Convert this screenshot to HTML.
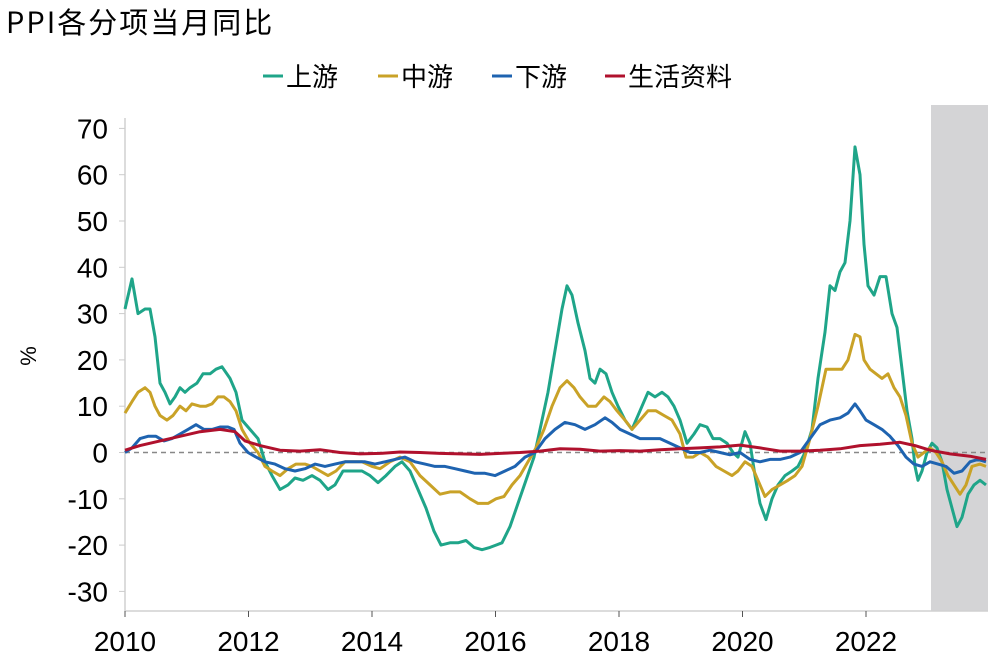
<!DOCTYPE html>
<html><head><meta charset="utf-8"><style>
html,body{margin:0;padding:0;background:#fff;}
svg{display:block;font-family:"Liberation Sans","Noto Sans CJK SC",sans-serif;}
</style></head><body>
<svg id="s" width="994" height="659" viewBox="0 0 994 659">
<text x="6" y="33" font-size="29" fill="#000" letter-spacing="2" font-family="'Noto Sans CJK SC',sans-serif">PPI各分项当月同比</text>
<g font-size="26" font-family="'Noto Sans CJK SC',sans-serif" fill="#000">
<line x1="263" y1="76" x2="283" y2="76" stroke="#1fa589" stroke-width="3"/><text x="286" y="86">上游</text>
<line x1="378" y1="76" x2="398" y2="76" stroke="#c9a227" stroke-width="3"/><text x="401" y="86">中游</text>
<line x1="492" y1="76" x2="512" y2="76" stroke="#1e63b0" stroke-width="3"/><text x="515" y="86">下游</text>
<line x1="605" y1="76" x2="625" y2="76" stroke="#b0112d" stroke-width="3"/><text x="628" y="86">生活资料</text>
</g>
<rect x="931" y="105" width="57" height="506" fill="#d4d4d6"/>
<line x1="125" y1="118" x2="125" y2="611" stroke="#d0d0d0" stroke-width="1.5"/>
<line x1="125" y1="611" x2="988" y2="611" stroke="#d0d0d0" stroke-width="1.5"/>
<line x1="125" y1="452.5" x2="988" y2="452.5" stroke="#888" stroke-width="1.5" stroke-dasharray="5,4"/>
<text x="0" y="0" font-size="22" transform="translate(36,356) rotate(-90)" text-anchor="middle">%</text>
<g id="ax" font-size="28" fill="#000"></g>
<g id="lines" fill="none" stroke-width="3" stroke-linejoin="round"></g>
</svg>
<script>
var ns="http://www.w3.org/2000/svg";
function Y(v){return 452.5-v*4.63;}
var ax=document.getElementById("ax");
for(var v=-30;v<=70;v+=10){
 var t=document.createElementNS(ns,"text");t.setAttribute("x",108);t.setAttribute("y",Y(v)+10);t.setAttribute("text-anchor","end");t.textContent=v;ax.appendChild(t);
 var l=document.createElementNS(ns,"line");l.setAttribute("x1",119);l.setAttribute("x2",125);l.setAttribute("y1",Y(v));l.setAttribute("y2",Y(v));l.setAttribute("stroke","#ccc");ax.appendChild(l);
}
for(var yr=2010;yr<=2022;yr+=2){
 var x=125+(yr-2010)*61.75;
 var t=document.createElementNS(ns,"text");t.setAttribute("x",x);t.setAttribute("y",651);t.setAttribute("text-anchor","middle");t.textContent=yr;ax.appendChild(t);
 var l=document.createElementNS(ns,"line");l.setAttribute("x1",x);l.setAttribute("x2",x);l.setAttribute("y1",611);l.setAttribute("y2",617);l.setAttribute("stroke","#555");ax.appendChild(l);
}
var S={
"#b0112d":[125,0.5,140,1.5,160,2.5,180,3.5,200,4.5,220,5,235,4.5,245,2.5,260,1.5,280,0.5,300,0.3,320,0.6,340,0,360,-0.3,380,-0.2,400,0.1,420,0,440,-0.2,460,-0.3,480,-0.4,500,-0.2,520,0,540,0.3,560,0.8,580,0.7,600,0.3,620,0.4,640,0.3,660,0.6,680,0.8,700,1,720,1.2,740,1.6,760,1,780,0.3,800,0.3,820,0.5,840,0.8,860,1.5,880,1.8,900,2.2,915,1.5,930,0.5,950,-0.3,970,-0.8,986,-1.5],
"#1e63b0":[125,0,132,1,140,3,148,3.5,156,3.5,164,2.5,172,3,180,4,188,5,196,6,204,5,212,5,220,5.5,228,5.5,234,5,240,2,248,0,256,-1,265,-2,275,-2.5,285,-3.5,295,-4,305,-3.5,315,-2.5,325,-3,335,-2.5,345,-2,355,-2,365,-2,375,-2.5,385,-2,395,-1.5,405,-1,415,-2,425,-2.5,435,-3,445,-3,455,-3.5,465,-4,475,-4.5,485,-4.5,495,-5,505,-4,515,-3,525,-1,535,0,545,3,555,5,565,6.5,575,6,585,5,595,6,605,7.5,612,6.5,620,5,630,4,640,3,650,3,660,3,670,2,680,1,690,0,700,0,710,0.5,720,0,730,-0.5,740,0,750,-1.5,760,-2,770,-1.5,780,-1.5,790,-1,800,0,810,3,820,6,830,7,840,7.5,848,8.5,855,10.5,860,9,866,7,874,6,882,5,890,3.5,898,1.5,906,-1,914,-2.5,922,-3,930,-2,938,-2.5,946,-3,954,-4.5,962,-4,970,-2,978,-1.5,986,-2],
"#c9a227":[125,8.5,132,11,138,13,145,14,150,13,155,10,160,8,167,7,173,8,180,10,186,9,192,10.5,200,10,206,10,212,10.5,218,12,224,12,230,11,236,9,242,5,250,2,258,0,265,-3,272,-4,280,-5,288,-3.5,296,-2.5,305,-2.5,312,-3,320,-4,328,-5,336,-4,345,-2,352,-2,362,-2,372,-3,380,-3.5,390,-2,400,-1,410,-2,420,-5,430,-7,440,-9,450,-8.5,460,-8.5,470,-10,478,-11,488,-11,496,-10,504,-9.5,512,-7,520,-5,528,-2,536,1,544,5,552,10,560,14,567,15.5,574,14,580,12,588,10,596,10,604,12,610,11,617,9,625,7,632,5,640,7,648,9,656,9,664,8,672,7,680,4,686,-1,693,-1,700,0,708,-1,716,-3,724,-4,732,-5,738,-4,745,-2,752,-3,758,-6,765,-9.5,772,-8,780,-7,788,-6,795,-5,802,-3,810,3,818,10,826,18,834,18,842,18,848,20,855,25.5,860,25,864,20,870,18,876,17,882,16,888,17,894,14,900,12,906,8,912,2,918,-1,924,0,930,1,936,0,942,-2,948,-5,954,-7,960,-9,966,-7,972,-3,980,-2.5,986,-3],
"#1fa589":[125,31,132,37.5,138,30,145,31,150,31,155,25,160,15,165,13,170,10.5,175,12,180,14,185,13,190,14,197,15,203,17,210,17,216,18,222,18.5,230,16,236,13,242,7,250,5,258,3,265,-2,272,-5,280,-8,288,-7,295,-5.5,303,-6,312,-5,320,-6,328,-8,335,-7,343,-4,352,-4,362,-4,370,-5,378,-6.5,386,-5,395,-3,402,-2,410,-4,418,-8,426,-12,434,-17,441,-20,450,-19.5,458,-19.5,466,-19,474,-20.5,482,-21,490,-20.5,496,-20,502,-19.5,510,-16,518,-11,526,-6,534,-1,540,5,548,13,555,22,562,31,567,36,572,34,578,28,585,22,590,16,595,15,600,18,606,17,612,13,618,10,625,7,632,5,640,9,648,13,655,12,662,13,668,12,674,10,680,7,687,2,694,4,700,6,707,5.5,713,3,720,3,727,2,733,0,738,-1,745,4.5,750,2,755,-5,760,-11,766,-14.5,772,-10,778,-7,785,-5,792,-4,798,-3,805,0,812,5,818,16,825,26,830,36,835,35,840,39,845,41,850,50,855,66,860,60,864,45,868,36,874,34,880,38,886,38,892,30,897,27,902,18,907,9,912,3,915,-3,918,-6,922,-4,927,0,932,2,937,1,942,-2,947,-8,952,-12,957,-16,962,-14,968,-9,974,-7,980,-6,986,-7]
};
var g=document.getElementById("lines");
["#1fa589","#c9a227","#1e63b0","#b0112d"].forEach(function(c){
 var a=S[c],d="";
 for(var i=0;i<a.length;i+=2)d+=(i?"L":"M")+a[i]+","+Y(a[i+1]).toFixed(1);
 var p=document.createElementNS(ns,"path");p.setAttribute("d",d);p.setAttribute("stroke",c);g.appendChild(p);
});
</script>
</body></html>
